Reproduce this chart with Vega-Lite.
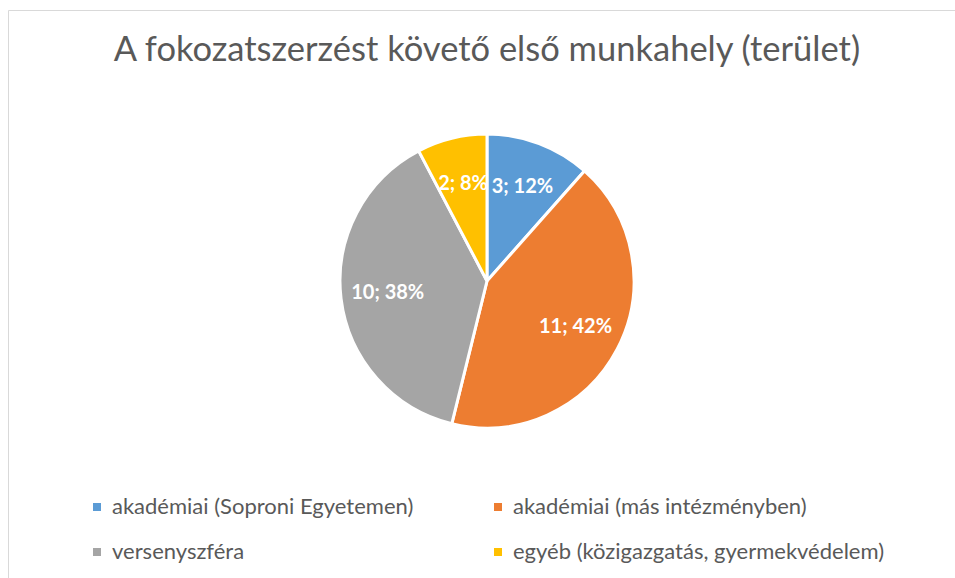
{
  "$schema": "https://vega.github.io/schema/vega-lite/v6.json",
  "width": 955,
  "height": 578,
  "autosize": {"type": "fit", "contains": "padding"},
  "padding": {"left": 8, "top": 10, "right": -11, "bottom": -30},
  "background": "white",
  "view": {"stroke": "#d9d9d9", "strokeWidth": 1},
  "config": {
    "font": "Lato"
  },
  "title": {
    "text": "A fokozatszerzést követő első munkahely (terület)",
    "fontSize": 34.5,
    "fontWeight": "normal",
    "color": "#595959",
    "font": "Lato",
    "anchor": "middle",
    "baseline": "alphabetic",
    "offset": -85
  },
  "data": {
    "values": [
      {"category": "akadémiai (Soproni Egyetemen)", "value": 3, "label": "3; 12%", "order": 1},
      {"category": "akadémiai (más intézményben)", "value": 11, "label": "11; 42%", "order": 2},
      {"category": "versenyszféra", "value": 10, "label": "10; 38%", "order": 3},
      {"category": "egyéb (közigazgatás, gyermekvédelem)", "value": 2, "label": "2; 8%", "order": 4}
    ]
  },
  "encoding": {
    "theta": {"field": "value", "type": "quantitative", "stack": true},
    "order": {"field": "order", "type": "ordinal"},
    "color": {
      "field": "category",
      "type": "nominal",
      "sort": ["akadémiai (Soproni Egyetemen)", "akadémiai (más intézményben)", "versenyszféra", "egyéb (közigazgatás, gyermekvédelem)"],
      "scale": {
        "domain": ["akadémiai (Soproni Egyetemen)", "akadémiai (más intézményben)", "versenyszféra", "egyéb (közigazgatás, gyermekvédelem)"],
        "range": ["#5B9BD5", "#ED7D31", "#A5A5A5", "#FFC000"]
      },
      "legend": {
        "title": null,
        "orient": "none",
        "legendX": 78,
        "legendY": 486,
        "direction": "horizontal",
        "columns": 2,
        "columnPadding": 73,
        "rowPadding": 23,
        "symbolType": "square",
        "symbolSize": 64,
        "symbolStrokeWidth": 0,
        "labelFontSize": 22,
        "labelFont": "Lato",
        "labelColor": "#595959",
        "labelOffset": 4,
        "labelLimit": 500
      }
    }
  },
  "layer": [
    {
      "mark": {"type": "arc", "radius": 147, "stroke": "white", "strokeWidth": 3, "yOffset": -28}
    },
    {
      "mark": {"type": "text", "radius": 100, "fontSize": 20, "fontWeight": "bold", "font": "Lato", "yOffset": -28},
      "encoding": {
        "text": {"field": "label", "type": "nominal"},
        "color": {"value": "white"}
      }
    }
  ]
}
